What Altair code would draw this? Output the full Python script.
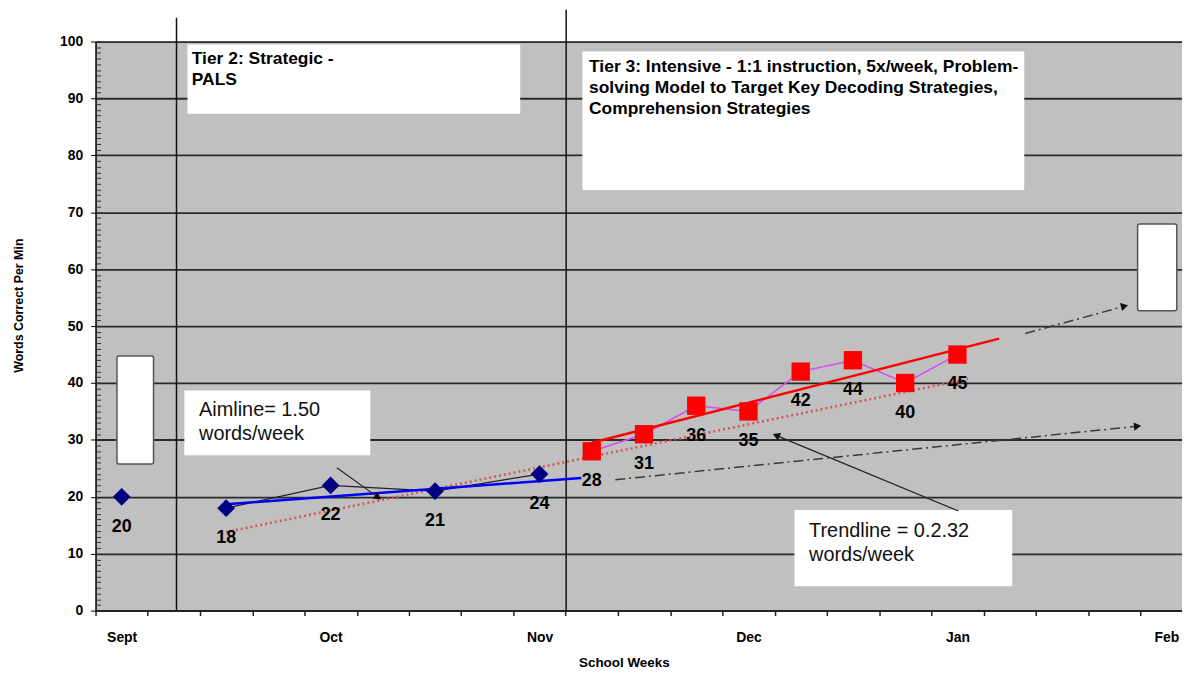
import altair as alt
import pandas as pd

# ---------------- data ----------------
blue_week = [0, 2, 4, 6, 8]
blue_wcpm = [20, 18, 22, 21, 24]
red_week = [9, 10, 11, 12, 13, 14, 15, 16]
red_wcpm = [28, 31, 36, 35, 42, 44, 40, 45]

month_names = ["Sept", "Oct", "Nov", "Dec", "Jan", "Feb"]
month_weeks = [0, 4, 8, 12, 16, 20]

tier2_trend_week = [2, 8.8]
tier2_trend_wcpm = [18.7, 23.3]
tier3_trend_week = [9, 16.8]
tier3_trend_wcpm = [29.5, 47.8]
aimline_week = [2, 16.2]
aimline_wcpm = [13.8, 40.7]
proj_low_week = [9.45, 19.45]
proj_low_wcpm = [23.0, 32.4]
proj_high_week = [17.3, 19.2]
proj_high_wcpm = [48.7, 53.5]
aim_arrow_week = [4.12, 4.91]
aim_arrow_wcpm = [25.1, 19.9]
trend_arrow_week = [16.02, 12.53]
trend_arrow_wcpm = [17.5, 30.8]

phase_week = [1.05, 8.51]
phase_top = [104.2, 105.6]

frame_week = [-0.09, 19.45]
frame_week2 = [0.61, 20.2]
frame_lo = [25.75, 52.7]
frame_hi = [44.75, 67.95]

note_week = [1.26, 8.82, 1.2, 12.88]
note_week2 = [7.63, 17.28, 4.76, 17.05]
note_lo = [87.3, 73.9, 27.3, 4.3]
note_hi = [99.5, 98.25, 38.7, 17.66]

tier_text = [
    "Tier 2: Strategic -\nPALS",
    "Tier 3: Intensive - 1:1 instruction, 5x/week, Problem-\nsolving Model to Target Key Decoding Strategies,\nComprehension Strategies",
]
tier_text_week = [1.342, 8.948]
tier_text_wcpm = [96.1, 94.63]

note_text = ["Aimline= 1.50\nwords/week", "Trendline = 0.2.32\nwords/week"]
note_text_week = [1.481, 13.16]
note_text_wcpm = [34.14, 12.88]

# ---------------- scales / axes ----------------
FONT = "Liberation Sans"
x_scale = alt.Scale(domain=[-0.5, 20.3], nice=False, zero=False)
y_scale = alt.Scale(domain=[0, 100], nice=False, zero=False)

label_expr = " : ".join(
    f"datum.value == {w - 0.5} ? '{m}'" for w, m in zip(month_weeks, month_names)
) + " : ''"

x_axis = alt.Axis(
    values=[w - 0.5 for w in range(0, 21)],
    labelExpr=label_expr,
    labelOffset=26.25,
    labelFlush=False,
    labelOverlap=False,
    labelFont=FONT,
    labelFontSize=14,
    labelFontWeight="bold",
    labelColor="black",
    labelPadding=15,
    tickSize=5,
    tickColor="#222222",
    tickWidth=1.5,
    domainColor="#222222",
    domainWidth=2,
    grid=False,
    title="School Weeks",
    titleFont=FONT,
    titleFontSize=13.5,
    titleFontWeight="bold",
    titleColor="black",
    titlePadding=11,
    titleX=531,
)

y_axis_main = alt.Axis(
    values=list(range(0, 101, 10)),
    grid=True,
    gridColor="#2a2a2a",
    gridWidth=1.8,
    tickSize=5,
    tickColor="black",
    domainColor="black",
    domainWidth=1.5,
    labelFont=FONT,
    labelFontSize=14,
    labelFontWeight="bold",
    labelColor="black",
    labelPadding=8,
    title="Words Correct Per Min",
    titleFont=FONT,
    titleFontSize=12.5,
    titleFontWeight="bold",
    titleColor="black",
    titleX=-70,
    titleY=265,
)

y_axis_minor = alt.Axis(
    values=list(range(0, 101)),
    orient="left",
    offset=-5,
    tickSize=5,
    tickColor="#333333",
    tickWidth=1,
    labels=False,
    domain=False,
    grid=False,
    title="",
)

X = alt.X("week:Q", scale=x_scale, axis=x_axis)
Y = alt.Y("wcpm:Q", scale=y_scale, axis=None)


def df(weeks, vals):
    return pd.DataFrame({"week": weeks, "wcpm": vals})


def line(weeks, vals, **kw):
    return alt.Chart(df(weeks, vals)).mark_line(**kw).encode(x=X, y=Y)


def head(weeks, vals, angle, color):
    d = df(weeks[-1:], vals[-1:])
    return alt.Chart(d).mark_point(
        shape="triangle-right", filled=True, size=70, angle=angle,
        color=color, opacity=1,
    ).encode(x=X, y=Y)


# ---------------- layers ----------------
frames = alt.Chart(
    pd.DataFrame({"week": frame_week, "week2": frame_week2, "wcpm": frame_lo, "wcpm2": frame_hi})
).mark_rect(fill="white", stroke="#555555", strokeWidth=1.5, cornerRadius=2).encode(
    x=X, x2="week2:Q", y=alt.Y("wcpm:Q", scale=y_scale, axis=y_axis_main), y2="wcpm2:Q"
)

notes = alt.Chart(
    pd.DataFrame({"week": note_week, "week2": note_week2, "wcpm": note_lo, "wcpm2": note_hi})
).mark_rect(fill="white").encode(x=X, x2="week2:Q", y=Y, y2="wcpm2:Q")

phase = alt.Chart(
    pd.DataFrame({"week": phase_week, "wcpm": [0, 0], "top": phase_top})
).mark_rule(color="#111111", strokeWidth=1.5, clip=False).encode(
    x=X, y=alt.Y("wcpm:Q", scale=y_scale, axis=y_axis_minor), y2="top:Q"
)

aim = line(aimline_week, aimline_wcpm, color="#D9534F", strokeWidth=2.5, strokeDash=[2, 3])
blue_trend = line(tier2_trend_week, tier2_trend_wcpm, color="#0000FF", strokeWidth=2.5)
blue_conn = line(blue_week[1:], blue_wcpm[1:], color="#222222", strokeWidth=1.2)
red_conn = line(red_week, red_wcpm, color="#D94CF0", strokeWidth=1.5)
red_trend = line(tier3_trend_week, tier3_trend_wcpm, color="#FF0000", strokeWidth=2.5)
proj_low = line(proj_low_week, proj_low_wcpm, color="#3A3A3A", strokeWidth=1.5, strokeDash=[10, 4, 2, 4])
proj_high = line(proj_high_week, proj_high_wcpm, color="#3A3A3A", strokeWidth=1.5, strokeDash=[10, 4, 2, 4])
aim_arrow = line(aim_arrow_week, aim_arrow_wcpm, color="#222222", strokeWidth=1.2)
trend_arrow = line(trend_arrow_week, trend_arrow_wcpm, color="#222222", strokeWidth=1.2)

heads = [
    head(proj_low_week, proj_low_wcpm, 354, "#111111"),
    head(proj_high_week, proj_high_wcpm, 345, "#111111"),
    head(aim_arrow_week, aim_arrow_wcpm, 36, "#111111"),
    head(trend_arrow_week, trend_arrow_wcpm, 203, "#111111"),
]

blue_pts = alt.Chart(df(blue_week, blue_wcpm)).mark_point(
    shape="diamond", filled=True, size=320, color="#000080", opacity=1
).encode(x=X, y=Y)
red_pts = alt.Chart(df(red_week, red_wcpm)).mark_point(
    shape="square", filled=True, size=340, color="#FF0000", opacity=1
).encode(x=X, y=Y)

pt_labels = alt.Chart(df(blue_week + red_week, blue_wcpm + red_wcpm)).mark_text(
    dy=30, font=FONT, fontSize=18, fontWeight="bold", color="black", baseline="middle"
).encode(x=X, y=Y, text="wcpm:Q")

tier_labels = alt.Chart(
    pd.DataFrame({"week": tier_text_week, "wcpm": tier_text_wcpm, "txt": tier_text})
).mark_text(
    align="left", baseline="alphabetic", lineBreak="\n", lineHeight=21,
    font=FONT, fontSize=17.5, fontWeight="bold", color="black",
).encode(x=X, y=Y, text="txt:N")

note_labels = alt.Chart(
    pd.DataFrame({"week": note_text_week, "wcpm": note_text_wcpm, "txt": note_text})
).mark_text(
    align="left", baseline="alphabetic", lineBreak="\n", lineHeight=24,
    font=FONT, fontSize=20, color="#111111",
).encode(x=X, y=Y, text="txt:N")

chart = alt.layer(
    frames, notes, phase,
    aim, blue_conn, blue_trend, red_conn, red_trend,
    proj_low, proj_high, aim_arrow, trend_arrow,
    *heads,
    blue_pts, red_pts, pt_labels, tier_labels, note_labels,
).resolve_axis(y="independent").properties(
    width=1092,
    height=572,
    autosize=alt.AutoSizeParams(type="none"),
    padding={"left": 88, "top": 32, "right": 0, "bottom": 62},
).configure(background="white").configure_view(
    fill="#C0C0C0", strokeWidth=0
)

chart.save("out.html", embed_options={"renderer": "svg", "actions": False})
